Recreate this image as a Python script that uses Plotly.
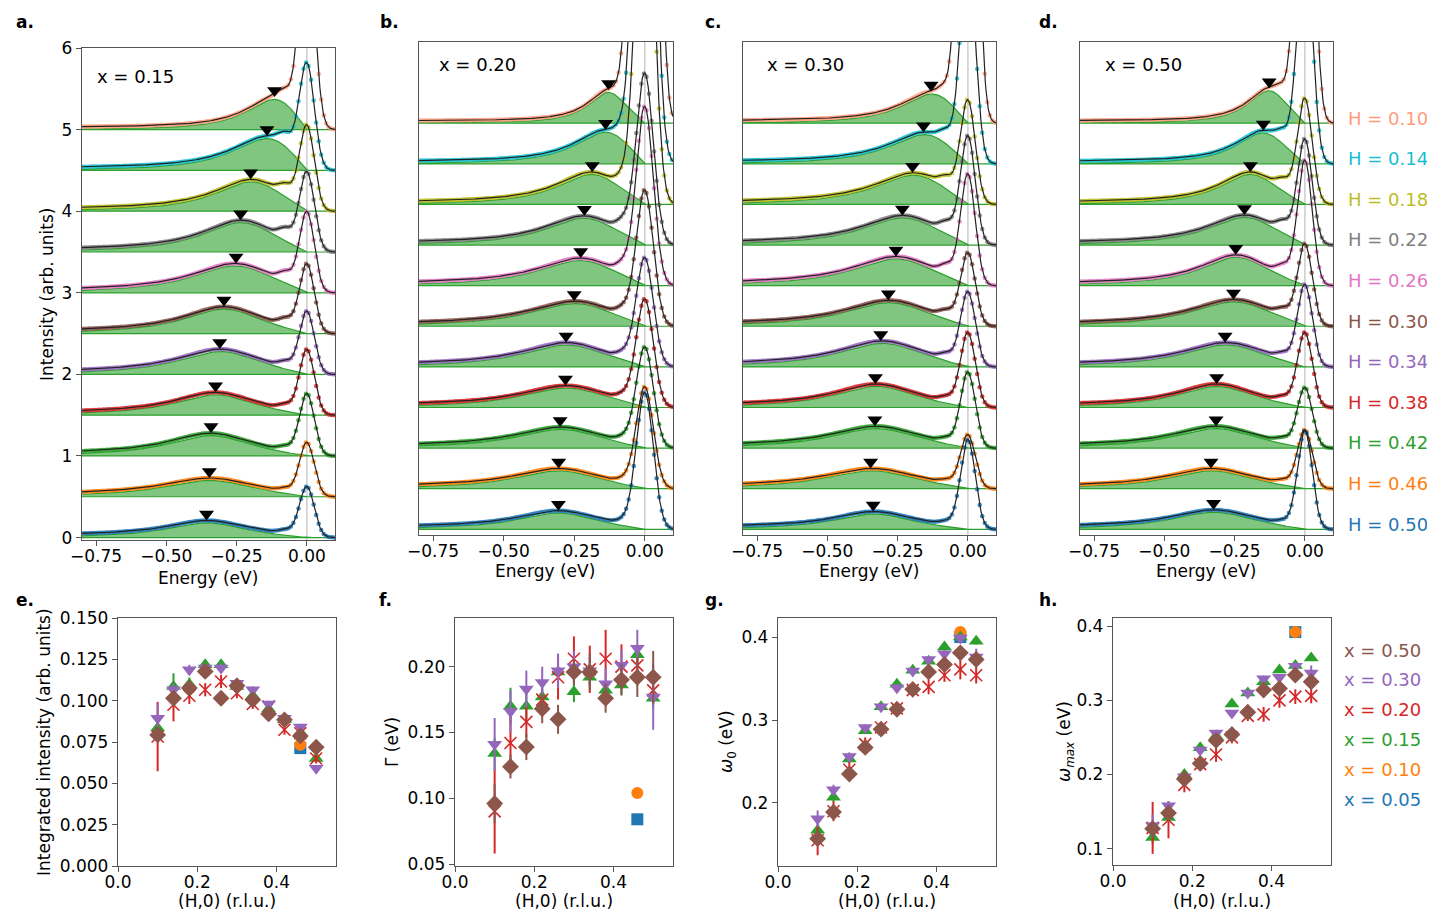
import numpy as np
import plotly.graph_objects as go

# ---------------- data ----------------
H = [0.10, 0.14, 0.18, 0.22, 0.26, 0.30, 0.34, 0.38, 0.42, 0.46, 0.50]
H_colors = ["#ff9c7d", "#17becf", "#bcbd22", "#7f7f7f", "#e377c2", "#8c564b",
            "#9467bd", "#d62728", "#2ca02c", "#ff7f0e", "#1f77b4"]

# integrated intensity (panel e)
int_015 = [0.0834, 0.1086, 0.110, 0.1217, 0.1217, 0.1086, 0.103, 0.095, 0.0884, 0.0807, 0.065]
int_020 = [0.0783, 0.0975, 0.103, 0.1066, 0.1116, 0.1045, 0.098, 0.0965, 0.0824, 0.0803, 0.065]
int_030 = [0.0894, 0.1066, 0.1187, 0.1197, 0.1197, 0.1106, 0.1066, 0.098, 0.0894, 0.084, 0.0591]
int_050 = [0.0793, 0.1015, 0.1076, 0.1177, 0.1015, 0.109, 0.1005, 0.092, 0.0884, 0.0787, 0.0718]
int_err_015 = [0.004, 0.008, 0.004, 0.003, 0.003, 0.002, 0.002, 0.002, 0.002, 0.002, 0.002]
int_err_020 = [0.021, 0.010, 0.005, 0.004, 0.004, 0.003, 0.003, 0.003, 0.003, 0.003, 0.003]
int_err_030 = [0.009, 0.004, 0.003, 0.003, 0.003, 0.002, 0.002, 0.002, 0.002, 0.002, 0.002]
int_err_050 = [0.004, 0.003, 0.003, 0.003, 0.002, 0.002, 0.002, 0.002, 0.002, 0.002, 0.002]

# damping Gamma (panel f)
gam_015 = [0.134, 0.170, 0.170, 0.177, 0.196, 0.181, 0.192, 0.182, 0.186, 0.209, 0.176]
gam_020 = [0.090, 0.142, 0.158, 0.175, 0.192, 0.206, 0.198, 0.206, 0.200, 0.201, 0.182]
gam_030 = [0.141, 0.166, 0.183, 0.188, 0.197, 0.200, 0.197, 0.187, 0.201, 0.214, 0.177]
gam_050 = [0.096, 0.124, 0.139, 0.168, 0.160, 0.196, 0.196, 0.176, 0.190, 0.192, 0.192]
gam_err_015 = [0.012, 0.014, 0.010, 0.008, 0.008, 0.008, 0.007, 0.007, 0.007, 0.008, 0.008]
gam_err_020 = [0.032, 0.020, 0.012, 0.008, 0.017, 0.017, 0.018, 0.022, 0.017, 0.015, 0.010]
gam_err_030 = [0.020, 0.016, 0.014, 0.012, 0.013, 0.012, 0.010, 0.012, 0.012, 0.014, 0.025]
gam_err_050 = [0.015, 0.009, 0.010, 0.011, 0.011, 0.010, 0.014, 0.011, 0.012, 0.015, 0.020]

# bare energy omega_0 (panel g)
w0_015 = [0.167, 0.207, 0.253, 0.287, 0.316, 0.343, 0.360, 0.371, 0.388, 0.400, 0.395]
w0_020 = [0.155, 0.190, 0.240, 0.271, 0.291, 0.314, 0.336, 0.340, 0.354, 0.361, 0.354]
w0_030 = [0.181, 0.216, 0.256, 0.291, 0.316, 0.339, 0.359, 0.373, 0.380, 0.399, 0.376]
w0_050 = [0.157, 0.189, 0.235, 0.267, 0.289, 0.313, 0.337, 0.358, 0.367, 0.381, 0.373]
w0_err_015 = [0.008, 0.006, 0.005, 0.004, 0.004, 0.004, 0.004, 0.004, 0.004, 0.004, 0.004]
w0_err_020 = [0.018, 0.012, 0.010, 0.008, 0.007, 0.007, 0.007, 0.009, 0.008, 0.012, 0.010]
w0_err_030 = [0.010, 0.006, 0.005, 0.004, 0.004, 0.004, 0.004, 0.004, 0.004, 0.005, 0.010]
w0_err_050 = [0.008, 0.006, 0.005, 0.004, 0.004, 0.004, 0.005, 0.005, 0.005, 0.006, 0.006]

# peak energy omega_max (panel h, also the triangles of a-d)
wmax_015 = [0.115, 0.142, 0.200, 0.236, 0.252, 0.295, 0.310, 0.325, 0.341, 0.347, 0.357]
wmax_020 = [0.128, 0.139, 0.186, 0.214, 0.227, 0.250, 0.279, 0.281, 0.300, 0.305, 0.306]
wmax_030 = [0.131, 0.158, 0.197, 0.233, 0.256, 0.283, 0.310, 0.329, 0.331, 0.346, 0.337]
wmax_050 = [0.127, 0.148, 0.194, 0.215, 0.246, 0.254, 0.284, 0.314, 0.316, 0.334, 0.325]
wmax_err_015 = [0.008, 0.006, 0.004, 0.004, 0.004, 0.004, 0.004, 0.004, 0.004, 0.004, 0.004]
wmax_err_020 = [0.035, 0.025, 0.010, 0.008, 0.010, 0.008, 0.007, 0.010, 0.010, 0.010, 0.010]
wmax_err_030 = [0.015, 0.006, 0.005, 0.004, 0.004, 0.004, 0.004, 0.004, 0.004, 0.005, 0.010]
wmax_err_050 = [0.010, 0.006, 0.005, 0.005, 0.005, 0.005, 0.005, 0.005, 0.005, 0.006, 0.006]

# single points for x = 0.10 and x = 0.05 at H = 0.46
H_single = [0.46]
int_010, int_005 = [0.0733], [0.0713]
gam_010, gam_005 = [0.104], [0.084]
w0_010, w0_005 = [0.406], [0.400]
wmax_010, wmax_005 = [0.392], [0.392]

# spectra (panels a-d): paramagnon peak height, elastic height above each baseline
peak_015 = [0.37, 0.39, 0.36, 0.36, 0.33, 0.30, 0.28, 0.25, 0.25, 0.20, 0.18]
peak_020 = [0.38, 0.39, 0.37, 0.33, 0.31, 0.28, 0.27, 0.24, 0.23, 0.22, 0.20]
peak_030 = [0.36, 0.36, 0.36, 0.335, 0.33, 0.29, 0.29, 0.26, 0.24, 0.22, 0.19]
peak_050 = [0.40, 0.38, 0.37, 0.34, 0.35, 0.30, 0.27, 0.26, 0.24, 0.22, 0.21]
elastic_015 = [2.5, 1.30, 1.04, 0.97, 0.98, 0.84, 0.76, 0.79, 0.75, 0.65, 0.61]
elastic_020 = [21.0, 8.0, 5.0, 2.1, 2.19, 1.66, 1.33, 1.32, 1.23, 1.24, 1.67]
elastic_030 = [8.7, 2.6, 1.27, 1.33, 1.36, 0.89, 0.91, 0.91, 0.92, 0.65, 1.09]
elastic_050 = [6.0, 2.8, 1.29, 1.29, 1.53, 1.00, 1.00, 0.91, 0.73, 0.71, 1.20]
phonon = [0.14, 0.14, 0.13, 0.13, 0.12, 0.09, 0.07, 0.06, 0.05, 0.04, 0.04]
offsets = [5.0, 4.5, 4.0, 3.5, 3.0, 2.5, 2.0, 1.5, 1.0, 0.5, 0.0]

# the page body has an 8 px margin: shrink the figure and shift coordinates
PAD = 8
W, Hpx = 1435 - 2 * PAD, 919 - 2 * PAD
FONT = "DejaVu Sans"
GREEN = "#2ca02c"


def px(x):
    return (x - PAD) / W


def py(y):
    return 1 - (y - PAD) / Hpx


def dho(w, w0, g):
    return 2 * g * w / ((w ** 2 - w0 ** 2) ** 2 + 4 * g ** 2 * w ** 2)


E = np.linspace(-0.8, 0.1, 451)
E_dots = np.arange(-0.795, 0.1, 0.009)
ww = np.linspace(0.001, 0.8, 3000)


def model(e, w0, g, height, el, ph, sig):
    w = np.clip(-e, 0, None)
    shape = np.where(e < 0, dho(w, w0, g), 0.0) / dho(ww, w0, g).max()
    green = height * shape
    total = (green + el * np.exp(-0.5 * (e / sig) ** 2)
             + ph * np.exp(-0.5 * ((e + 0.075) / 0.025) ** 2)
             + 0.03 / (1 + np.exp(e / 0.02)))
    return green, total


fig = go.Figure()

top_panels = [
    ("x", "y", w0_015, gam_015, wmax_015, peak_015, elastic_015, 0.026, (82, 335, 48, 540), [-0.03, 6.0]),
    ("x2", "y2", w0_020, gam_020, wmax_020, peak_020, elastic_020, 0.030, (419, 673, 42, 535), [-0.07, 6.0]),
    ("x3", "y3", w0_030, gam_030, wmax_030, peak_030, elastic_030, 0.026, (743, 996, 42, 535), [-0.07, 6.0]),
    ("x4", "y4", w0_050, gam_050, wmax_050, peak_050, elastic_050, 0.026, (1080, 1333, 42, 535), [-0.07, 6.0]),
]

axis_common = dict(showline=True, linecolor="#555", linewidth=1.3, mirror=True,
                   ticks="outside", ticklen=5, tickcolor="#555", tickwidth=1.2,
                   showgrid=False, zeroline=False, automargin=False,
                   tickfont=dict(family=FONT, size=17, color="black"))

layout_axes = {}
for i, (xa, ya, w0s, gams, wms, peaks, els, sig, box, yr) in enumerate(top_panels):
    n = i + 1
    kw = dict(xaxis=xa, yaxis=ya, showlegend=False, hoverinfo="skip")
    # grey line at zero energy
    fig.add_trace(go.Scatter(x=[0, 0], y=[yr[0], yr[1]], mode="lines",
                             line=dict(color="#cccccc", width=1.5), **kw))
    dot_x, dot_y, dot_c = [], [], []
    tri_x, tri_y = [], []
    totals = []
    for k in range(len(H)):
        base = offsets[k]
        green, total = model(E, w0s[k], gams[k], peaks[k], els[k], phonon[k], sig)
        totals.append(base + total)
        fig.add_trace(go.Scatter(
            x=np.concatenate([E, E[::-1]]),
            y=np.concatenate([base + green, np.full(E.size, base)]),
            mode="lines", fill="toself", fillcolor="rgba(44,160,44,0.6)",
            line=dict(color=GREEN, width=1.2), **kw))
        _, tot_d = model(E_dots, w0s[k], gams[k], peaks[k], els[k], phonon[k], sig)
        dot_x.extend(E_dots)
        dot_y.extend(base + tot_d)
        dot_c.extend([H_colors[k]] * E_dots.size)
        g_at, _ = model(np.array([-wms[k]]), w0s[k], gams[k], peaks[k], els[k], phonon[k], sig)
        tri_x.append(-wms[k])
        tri_y.append(base + g_at[0] + 0.11)
    fig.add_trace(go.Scatter(x=dot_x, y=dot_y, mode="markers",
                             marker=dict(color=dot_c, size=4.5, opacity=0.85), **kw))
    for tot in totals:
        fig.add_trace(go.Scatter(x=E, y=tot, mode="lines",
                                 line=dict(color="#222", width=1.2), **kw))
    fig.add_trace(go.Scatter(x=tri_x, y=tri_y, mode="markers",
                             marker=dict(symbol="triangle-down", color="black", size=13), **kw))
    l, r, t, b = box
    xkey = "xaxis" if n == 1 else f"xaxis{n}"
    ykey = "yaxis" if n == 1 else f"yaxis{n}"
    layout_axes[xkey] = dict(axis_common, domain=[px(l), px(r)], range=[-0.8, 0.1],
                             anchor=ya, tickvals=[-0.75, -0.5, -0.25, 0.0],
                             ticktext=["−0.75", "−0.50", "−0.25", "0.00"],
                             ticklabelstandoff=-5)
    yax = dict(axis_common, domain=[py(b), py(t)], range=yr, anchor=xa)
    if n == 1:
        yax.update(tickvals=[0, 1, 2, 3, 4, 5, 6])
    else:
        yax.update(showticklabels=False, ticks="")
    layout_axes[ykey] = yax

# ---------------- bottom panels ----------------
bottom_panels = [
    ("x5", "y5", (118, 336, 618, 866), [0, 0.15], [0, 0.025, 0.05, 0.075, 0.1, 0.125, 0.15],
     ["0.000", "0.025", "0.050", "0.075", "0.100", "0.125", "0.150"],
     [int_005, int_010, int_015, int_020, int_030, int_050],
     [None, None, int_err_015, int_err_020, int_err_030, int_err_050]),
    ("x6", "y6", (455, 673, 618, 866), [0.0485, 0.237], [0.05, 0.10, 0.15, 0.20],
     ["0.05", "0.10", "0.15", "0.20"],
     [gam_005, gam_010, gam_015, gam_020, gam_030, gam_050],
     [None, None, gam_err_015, gam_err_020, gam_err_030, gam_err_050]),
    ("x7", "y7", (778, 996, 618, 866), [0.124, 0.423], [0.2, 0.3, 0.4], ["0.2", "0.3", "0.4"],
     [w0_005, w0_010, w0_015, w0_020, w0_030, w0_050],
     [None, None, w0_err_015, w0_err_020, w0_err_030, w0_err_050]),
    ("x8", "y8", (1113, 1331, 618, 865), [0.078, 0.411], [0.1, 0.2, 0.3, 0.4], ["0.1", "0.2", "0.3", "0.4"],
     [wmax_005, wmax_010, wmax_015, wmax_020, wmax_030, wmax_050],
     [None, None, wmax_err_015, wmax_err_020, wmax_err_030, wmax_err_050]),
]

series_style = [
    ("#1f77b4", "square", 12, 0),
    ("#ff7f0e", "circle", 12, 0),
    ("#2ca02c", "triangle-up", 13, 0),
    ("#d62728", "x-thin", 12, 1.6),
    ("#9467bd", "triangle-down", 13, 0),
    ("#8c564b", "diamond", 13, 0),
]

for i, (xa, ya, box, yr, tv, tt, vals, errs) in enumerate(bottom_panels):
    n = i + 5
    for (col, sym, size, lw), v, er in zip(series_style, vals, errs):
        xs = H_single if len(v) == 1 else H
        fig.add_trace(go.Scatter(
            x=xs, y=v, mode="markers",
            marker=dict(symbol=sym, color=col, size=size,
                        line=dict(color=col, width=lw)),
            error_y=dict(type="data", array=er, visible=er is not None,
                         color=col, thickness=2, width=0),
            xaxis=xa, yaxis=ya, showlegend=False, hoverinfo="skip"))
    l, r, t, b = box
    layout_axes[f"xaxis{n}"] = dict(axis_common, domain=[px(l), px(r)], range=[0, 0.55],
                                    anchor=ya, tickvals=[0, 0.2, 0.4], ticktext=["0.0", "0.2", "0.4"],
                                    ticklabelstandoff=-5)
    layout_axes[f"yaxis{n}"] = dict(axis_common, domain=[py(b), py(t)], range=yr,
                                    anchor=xa, tickvals=tv, ticktext=tt)

# ---------------- text ----------------
ann = []


def text(x, y, s, size=17, color="black", xanchor="center", angle=0, bold=False):
    ann.append(dict(x=px(x), y=py(y), xref="paper", yref="paper", text=f"<b>{s}</b>" if bold else s,
                    showarrow=False, xanchor=xanchor, yanchor="middle", textangle=angle,
                    font=dict(family=FONT, size=size, color=color)))


for s, x, y in [("a.", 14, 22), ("b.", 378, 22), ("c.", 703, 22), ("d.", 1037, 22),
                ("e.", 14, 600), ("f.", 377, 600), ("g.", 703, 600), ("h.", 1037, 600)]:
    text(x, y, s, size=17, xanchor="left", bold=True)

text(95, 77, "x = 0.15", size=18, xanchor="left")
text(437, 65, "x = 0.20", size=18, xanchor="left")
text(765, 65, "x = 0.30", size=18, xanchor="left")
text(1103, 65, "x = 0.50", size=18, xanchor="left")

for cx, y in [(208, 578), (545, 571), (869, 571), (1206, 571)]:
    text(cx, y, "Energy (eV)", size=17)
for cx in [227, 564, 887, 1222]:
    text(cx, 901, "(H,0) (r.l.u.)", size=17)

text(47, 295, "Intensity (arb. units)", size=17, angle=-90)
text(44, 742, "Integrated intensity (arb. units)", size=17, angle=-90)
text(392, 742, "Γ (eV)", size=17, angle=-90)
text(727, 742, "<i>ω</i><sub>0</sub> (eV)", size=17, angle=-90)
text(1065, 742, "<i>ω<sub>max</sub></i> (eV)", size=17, angle=-90)

for k, h in enumerate(H):
    text(1346, 118 + 40.6 * k, f"H = {h:.2f}", size=18, color=H_colors[k], xanchor="left")

x_labels = ["x = 0.50", "x = 0.30", "x = 0.20", "x = 0.15", "x = 0.10", "x = 0.05"]
x_label_colors = ["#8c564b", "#9467bd", "#d62728", "#2ca02c", "#ff7f0e", "#1f77b4"]
for k, (s, c) in enumerate(zip(x_labels, x_label_colors)):
    text(1342, 650 + 29.8 * k, s, size=18, color=c, xanchor="left")

fig.update_layout(width=W, height=Hpx, autosize=False,
                  margin=dict(l=0, r=0, t=0, b=0, autoexpand=False),
                  paper_bgcolor="white", plot_bgcolor="white",
                  annotations=ann, showlegend=False, **layout_axes)

fig.write_html("out.html")
